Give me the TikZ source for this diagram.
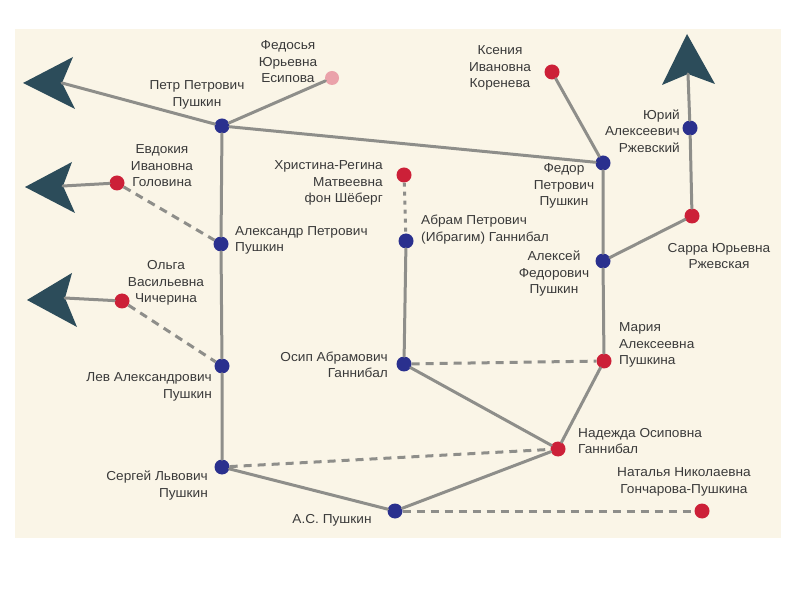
\documentclass[tikz,border=0pt]{standalone}
\usepackage{fontspec}
\setmainfont{Liberation Sans}[FakeStretch=1.05]
\usepackage{tikz}
\usetikzlibrary{positioning}

\definecolor{paper}{RGB}{250,245,231}
\definecolor{linegray}{RGB}{142,142,138}
\definecolor{manblue}{RGB}{42,48,142}
\definecolor{womanred}{RGB}{204,32,56}
\definecolor{palepink}{RGB}{234,162,170}
\definecolor{arrowteal}{RGB}{44,76,90}
\definecolor{txtgray}{RGB}{58,58,58}

\tikzset{
  man/.style={circle, fill=manblue, inner sep=0pt, minimum size=15pt},
  woman/.style={circle, fill=womanred, inner sep=0pt, minimum size=15pt},
  link/.style={draw=linegray, line width=3pt, line cap=round},
  marriage/.style={link, line cap=butt, dash pattern=on 8pt off 6pt},
  lbl/.style={text=txtgray, inner sep=0pt, font=\fontsize{13}{16.5}\selectfont},
  arrowhead/.style={fill=arrowteal}
}

\begin{document}
\begin{tikzpicture}[x=10pt, y=10pt]
         \useasboundingbox (0,0) rectangle (80,60);
         \fill[paper] (1.5,57.1) rectangle (78.1,6.2);
         % Pushkin line
         \node[man] (pp)  at (22.2,47.4) {};
         \node[man] (ap)  at (22.1,35.6) {};
         \node[man] (lev) at (22.2,23.4) {};
         \node[man] (ser) at (22.2,13.3) {};
         \node[man] (asp) at (39.5,8.9) {};
         \node[man] (fdr) at (60.3,43.7) {};
         \node[man] (alx) at (60.3,33.9) {};
         \node[man] (yur) at (69.0,47.2) {};
         % Gannibal line
         \node[man] (abr) at (40.6,35.9) {};
         \node[man] (osi) at (40.4,23.6) {};
         % wives
         \node[circle, fill=palepink, inner sep=0pt, minimum size=14pt] (fed) at (33.2,52.2) {};
         \node[woman] (evd) at (11.7,41.7) {};
         \node[woman] (olg) at (12.2,29.9) {};
         \node[woman] (khr) at (40.4,42.5) {};
         \node[woman] (nad) at (55.8,15.1) {};
         \node[woman] (mar) at (60.4,23.9) {};
         \node[woman] (nat) at (70.2,8.9) {};
         \node[woman] (ksn) at (55.2,52.8) {};
         \node[woman] (sar) at (69.2,38.4) {};
         % arrow ends
         \coordinate (nP) at (6.2,51.7);
         \coordinate (nE) at (6.3,41.4);
         \coordinate (nO) at (6.5,30.2);
         \coordinate (nY) at (68.8,52.6);
         \fill[arrowhead] (2.3,51.7) -- (7.3,54.3) -- (nP) -- (7.5,49.1) -- cycle;
         \fill[arrowhead] (2.5,41.3) -- (7.2,43.8) -- (nE) -- (7.5,38.7) -- cycle;
         \fill[arrowhead] (2.7,30.0) -- (7.2,32.7) -- (nO) -- (7.7,27.3) -- cycle;
         \fill[arrowhead] (68.7,56.6) -- (66.2,51.5) -- (nY) -- (71.5,51.6) -- cycle;
         % descent
         \draw[link] (nP) -- (pp) -- (fdr);
         \draw[link] (pp) -- (fed);
         \draw[link] (pp) -- (ap) -- (lev) -- (ser) -- (asp) -- (nad) -- (mar) -- (alx) -- (fdr) -- (ksn);
         \draw[link] (abr) -- (osi) -- (nad);
         \draw[link] (nE) -- (evd);
         \draw[link] (nO) -- (olg);
         \draw[link] (alx) -- (sar) -- (yur) -- (nY);
         % marriages
         \draw[marriage] (evd) -- (ap);
         \draw[marriage] (olg) -- (lev);
         \draw[marriage] (osi) -- (mar);
         \draw[marriage] (ser) -- (nad);
         \draw[marriage] (asp) -- (nat);
         \draw[marriage, dash pattern=on 4pt off 5pt] (khr) -- (abr);
         % names
         \node[lbl, align=center] (ppL) at (19.7,50.5) {Петр Петрович\\Пушкин};
         \node[lbl, align=center] (fedL) at (28.8,53.8) {Федосья\\Юрьевна\\Есипова};
         \node[lbl, align=center] (evdL) at (16.2,43.4) {Евдокия\\Ивановна\\Головина};
         \node[lbl, align=left, anchor=west] (apL) at (23.5,35.95) {Александр Петрович\\Пушкин};
         \node[lbl, align=center] (olgL) at (16.6,31.7) {Ольга\\Васильевна\\Чичерина};
         \node[lbl, align=right, anchor=east] (levL) at (21.2,21.3) {Лев Александрович\\Пушкин};
         \node[lbl, align=right, anchor=east] (serL) at (20.8,11.45) {Сергей Львович\\Пушкин};
         \node[lbl] (aspL) at (33.2,8.0) {А.С. Пушкин};
         \node[lbl, align=right, anchor=east] (khrL) at (38.3,41.7) {Христина-Регина\\Матвеевна\\фон Шёберг};
         \node[lbl, align=left, anchor=west] (abrL) at (42.1,37.05) {Абрам Петрович\\(Ибрагим) Ганнибал};
         \node[lbl, align=right, anchor=east] (osiL) at (38.8,23.5) {Осип Абрамович\\Ганнибал};
         \node[lbl, align=center] (ksnL) at (50.0,53.2) {Ксения\\Ивановна\\Коренева};
         \node[lbl, align=center] (fdrL) at (56.4,41.4) {Федор\\Петрович\\Пушкин};
         \node[lbl, align=center] (alxL) at (55.4,32.6) {Алексей\\Федорович\\Пушкин};
         \node[lbl, align=right, anchor=east] (yurL) at (68.0,46.9) {Юрий\\Алексеевич\\Ржевский};
         \node[lbl, align=center] (sarL) at (71.9,34.4) {Сарра Юрьевна\\Ржевская};
         \node[lbl, align=left, anchor=west] (marL) at (61.9,25.5) {Мария\\Алексеевна\\Пушкина};
         \node[lbl, align=left, anchor=west] (nadL) at (57.8,15.9) {Надежда Осиповна\\Ганнибал};
         \node[lbl, align=center] (natL) at (68.4,11.8) {Наталья Николаевна\\Гончарова-Пушкина};
       \end{tikzpicture}
\end{document}
